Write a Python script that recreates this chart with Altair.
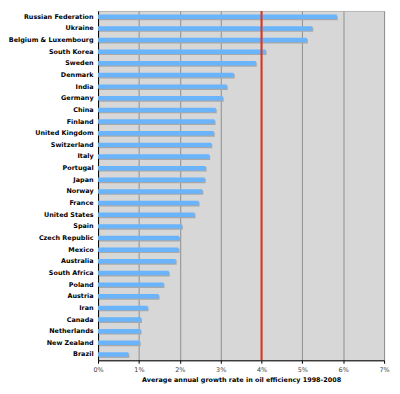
import altair as alt
import pandas as pd

countries = [
    "Russian Federation", "Ukraine", "Belgium & Luxembourg", "South Korea", "Sweden",
    "Denmark", "India", "Germany", "China", "Finland", "United Kingdom", "Switzerland",
    "Italy", "Portugal", "Japan", "Norway", "France", "United States", "Spain",
    "Czech Republic", "Mexico", "Australia", "South Africa", "Poland", "Austria",
    "Iran", "Canada", "Netherlands", "New Zealand", "Brazil",
]
growth = [
    5.84, 5.24, 5.11, 4.10, 3.86, 3.32, 3.15, 3.05, 2.88, 2.85, 2.83, 2.77,
    2.72, 2.63, 2.61, 2.55, 2.46, 2.36, 2.05, 1.98, 1.97, 1.90, 1.73, 1.60,
    1.48, 1.21, 1.05, 1.04, 1.02, 0.74,
]
threshold = [4]
x_ticks = [0, 1, 2, 3, 4, 5, 6, 7]

df = pd.DataFrame({"country": countries, "growth": growth})
ref = pd.DataFrame({"x": threshold})

FONT = "DejaVu Sans"

y_enc = alt.Y(
    "country:N",
    sort=countries,
    title=None,
    scale=alt.Scale(paddingInner=0, paddingOuter=0),
    axis=alt.Axis(
        labelFont=FONT, labelFontWeight="bold", labelFontSize=6.5, labelColor="#000000",
        ticks=False, tickSize=0, labelPadding=5, domainColor="#000000", domainWidth=1, grid=False,
    ),
)
x_enc = alt.X(
    "growth:Q",
    scale=alt.Scale(domain=[0, 7], nice=False),
    axis=alt.Axis(
        values=x_ticks, labelExpr="datum.value + '%'", labelFlush=False,
        title="Average annual growth rate in oil efficiency 1998-2008",
        titleFont=FONT, titleFontWeight="bold", titleFontSize=6.5, titleColor="#000000",
        titlePadding=4,
        labelFont=FONT, labelFontSize=6.5, labelColor="#444444", labelPadding=3,
        tickSize=3, tickColor="#000000", domainColor="#000000", domainWidth=1,
        grid=True, gridColor="#8f8f8f", gridWidth=1,
    ),
)

base = alt.Chart(df)
shadow = base.mark_bar(size=4.5, color="#a8a8a8", xOffset=1, x2Offset=1, yOffset=1.2, y2Offset=1.2).encode(
    x=x_enc, y=y_enc
)
bars = base.mark_bar(size=4.5, color="#6ab4fb").encode(x=x_enc, y=y_enc)
rule = alt.Chart(ref).mark_rule(color="#e2301c", strokeWidth=2).encode(x="x:Q")

chart = (
    alt.layer(shadow, bars, rule)
    .properties(
        width=289, height=353,
        padding={"left": 0, "top": 0, "right": 2, "bottom": 2},
        view=alt.ViewBackground(fill="#d7d7d7", stroke="#b5b5b5", strokeWidth=1),
    )
    .configure(background="#ffffff")
)

chart.save("out.html", embed_options={"renderer": "svg", "actions": False})
